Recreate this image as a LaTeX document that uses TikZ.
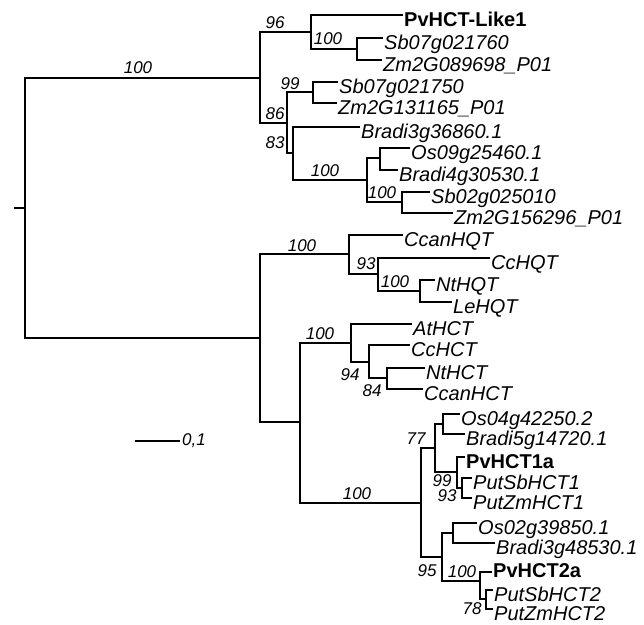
\documentclass[tikz,border=0pt]{standalone}
\usepackage{fontspec}
\setmainfont{Liberation Sans}
\usepackage{tikz}
\tikzset{
  br/.style={line width=2.8pt, line join=miter},
  tip/.style={anchor=west, inner sep=1pt, text height=22pt, text depth=0pt,
              font=\fontsize{20}{22}\selectfont\itshape},
  pvtip/.style={tip, font=\fontsize{20}{22}\selectfont\bfseries},
  boot/.style={inner sep=0pt, font=\fontsize{17}{18}\selectfont\itshape},
  scalebar/.style={line width=1.6pt}
}
\begin{document}
\begin{tikzpicture}[x=1pt, y=-1pt]
  \useasboundingbox[fill=white] (0,0) rectangle (644,624);
  % inner nodes
  \coordinate (stem) at (14,208);
  \coordinate (root) at (25,208);
  \coordinate (g) at (260,78);
  \coordinate (g1) at (311,32);
  \coordinate (g11) at (357,49);
  \coordinate (g2) at (287,123);
  \coordinate (g21) at (313,92);
  \coordinate (g22) at (293,153);
  \coordinate (g221) at (367,180);
  \coordinate (g2211) at (380,158);
  \coordinate (g2212) at (402,202);
  \coordinate (h) at (260,338);
  \coordinate (q) at (349,254);
  \coordinate (q1) at (378,274);
  \coordinate (q11) at (420,291);
  \coordinate (c) at (300,422);
  \coordinate (d) at (351,343);
  \coordinate (d1) at (369,362);
  \coordinate (d11) at (387,378);
  \coordinate (m) at (421,503);
  \coordinate (m1) at (435,448);
  \coordinate (m11) at (443,424);
  \coordinate (m12) at (457,472);
  \coordinate (m121) at (462,488);
  \coordinate (m2) at (442,557);
  \coordinate (m21) at (453,533);
  \coordinate (m22) at (480,581);
  \coordinate (m221) at (486,599);
  % leaves
  \node[pvtip] (pvl) at (403,15) {PvHCT-Like1};
  \node[tip] (sb1) at (383,38) {Sb07g021760};
  \node[tip] (zm1) at (382,60) {Zm2G089698\_P01};
  \node[tip] (sb2) at (338,82) {Sb07g021750};
  \node[tip] (zm2) at (337,103) {Zm2G131165\_P01};
  \node[tip] (bd1) at (360,127) {Bradi3g36860.1};
  \node[tip] (os1) at (410,148) {Os09g25460.1};
  \node[tip] (bd2) at (398,170) {Bradi4g30530.1};
  \node[tip] (sb3) at (430,192) {Sb02g025010};
  \node[tip] (zm3) at (453,213) {Zm2G156296\_P01};
  \node[tip] (ccanq) at (403,235) {CcanHQT};
  \node[tip] (ccq) at (490,258) {CcHQT};
  \node[tip] (ntq) at (435,280) {NtHQT};
  \node[tip] (leq) at (452,302) {LeHQT};
  \node[tip] (ath) at (412,324) {AtHCT};
  \node[tip] (cch) at (410,345) {CcHCT};
  \node[tip] (nth) at (425,368) {NtHCT};
  \node[tip] (ccanh) at (423,389) {CcanHCT};
  \node[tip] (os2) at (460,414) {Os04g42250.2};
  \node[tip] (bd3) at (465,434) {Bradi5g14720.1};
  \node[pvtip] (pv1) at (465,457) {PvHCT1a};
  \node[tip] (psb1) at (472,478) {PutSbHCT1};
  \node[tip] (pzm1) at (472,498) {PutZmHCT1};
  \node[tip] (os3) at (477,523) {Os02g39850.1};
  \node[tip] (bd4) at (495,543) {Bradi3g48530.1};
  \node[pvtip, text height=10pt] (pv2) at (492,572) {PvHCT2a};
  \node[tip] (psb2) at (493,590) {PutSbHCT2};
  \node[tip] (pzm2) at (493,609) {PutZmHCT2};
  % branches
  \draw[br] (stem) -- (root);
  \draw[br] (root) |- (g);
  \draw[br] (root) |- (h);
  \draw[br] (g) |- (g1);
  \draw[br] (g) |- (g2);
  \draw[br] (g1) |- (pvl.west);
  \draw[br] (g1) |- (g11);
  \draw[br] (g11) |- (sb1.west);
  \draw[br] (g11) |- (zm1.west);
  \draw[br] (g2) |- (g21);
  \draw[br] (g2) |- (g22);
  \draw[br] (g21) |- (sb2.west);
  \draw[br] (g21) |- (zm2.west);
  \draw[br] (g22) |- (bd1.west);
  \draw[br] (g22) |- (g221);
  \draw[br] (g221) |- (g2211);
  \draw[br] (g221) |- (g2212);
  \draw[br] (g2211) |- (os1.west);
  \draw[br] (g2211) |- (bd2.west);
  \draw[br] (g2212) |- (sb3.west);
  \draw[br] (g2212) |- (zm3.west);
  \draw[br] (h) |- (q);
  \draw[br] (h) |- (c);
  \draw[br] (q) |- (ccanq.west);
  \draw[br] (q) |- (q1);
  \draw[br] (q1) |- (ccq.west);
  \draw[br] (q1) |- (q11);
  \draw[br] (q11) |- (ntq.west);
  \draw[br] (q11) |- (leq.west);
  \draw[br] (c) |- (d);
  \draw[br] (c) |- (m);
  \draw[br] (d) |- (ath.west);
  \draw[br] (d) |- (d1);
  \draw[br] (d1) |- (cch.west);
  \draw[br] (d1) |- (d11);
  \draw[br] (d11) |- (nth.west);
  \draw[br] (d11) |- (ccanh.west);
  \draw[br] (m) |- (m1);
  \draw[br] (m) |- (m2);
  \draw[br] (m1) |- (m11);
  \draw[br] (m1) |- (m12);
  \draw[br] (m11) |- (os2.west);
  \draw[br] (m11) |- (bd3.west);
  \draw[br] (m12) |- (pv1.west);
  \draw[br] (m12) |- (m121);
  \draw[br] (m121) |- (psb1.west);
  \draw[br] (m121) |- (pzm1.west);
  \draw[br] (m2) |- (m21);
  \draw[br] (m2) |- (m22);
  \draw[br] (m21) |- (os3.west);
  \draw[br] (m21) |- (bd4.west);
  \draw[br] (m22) |- (pv2.west);
  \draw[br] (m22) |- (m221);
  \draw[br] (m221) |- (psb2.west);
  \draw[br] (m221) |- (pzm2.west);
  % bootstrap values
  \node[boot] (bs1) at (138,68) {100};
  \node[boot] (bs2) at (275,23) {96};
  \node[boot] (bs3) at (328,39) {100};
  \node[boot] (bs4) at (290,84) {99};
  \node[boot] (bs5) at (275,114) {86};
  \node[boot] (bs6) at (275,143) {83};
  \node[boot] (bs7) at (325,171) {100};
  \node[boot] (bs8) at (382,193) {100};
  \node[boot] (bs9) at (302,246) {100};
  \node[boot] (bs10) at (366,264) {93};
  \node[boot] (bs11) at (395,282) {100};
  \node[boot] (bs12) at (320,334) {100};
  \node[boot] (bs13) at (350,375) {94};
  \node[boot] (bs14) at (372,391) {84};
  \node[boot] (bs15) at (357,494) {100};
  \node[boot] (bs16) at (416,439) {77};
  \node[boot] (bs17) at (442,481) {99};
  \node[boot] (bs18) at (447,496) {93};
  \node[boot] (bs19) at (427,571) {95};
  \node[boot] (bs20) at (462,572) {100};
  \node[boot] (bs21) at (472,609) {78};
  % scale bar
  \coordinate (sc0) at (135,441);
  \coordinate (sc1) at (180,441);
  \draw[scalebar] (sc0) -- (sc1);
  \node[boot, anchor=west, inner sep=2pt] (sclab) at (sc1) {0,1};
\end{tikzpicture}
\end{document}
